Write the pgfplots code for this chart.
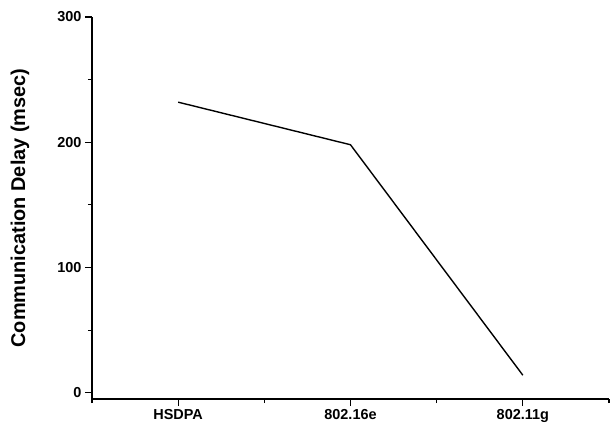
\documentclass[border=0pt]{standalone}
\usepackage{fontspec}
\setmainfont{Liberation Sans}
\usepackage{pgfplots}
\pgfplotsset{compat=1.18}
\begin{document}
\begin{tikzpicture}
\begin{axis}[
  scale only axis,
  width=517bp, height=382bp,
  xmin=0.5, xmax=3.5,
  ymin=-5, ymax=300,
  axis x line*=bottom,
  axis y line*=left,
  axis line style={line width=1.1pt},
  tick align=outside,
  tick style={line width=1.1pt, black},
  major tick length=7bp,
  minor tick length=4bp,
  xtick={1,2,3},
  xticklabels={HSDPA,802.16e,802.11g},
  minor xtick={0.5,1.5,2.5,3.5},
  ytick={0,100,200,300},
  minor ytick={50,150,250},
  /pgf/number format/assume math mode=true,
  ticklabel style={font=\fontsize{14.5}{17}\selectfont\bfseries},
  ylabel={Communication Delay (msec)},
  every axis y label/.style={at={(axis description cs:-0.1393,0.5)}, rotate=90, anchor=center,
    font=\fontsize{20}{24}\selectfont\bfseries},
  clip=false,
]
\addplot[black, line width=1.4pt, mark=none] coordinates {
  (1,232) (2,198) (3,14)
};
\end{axis}
\pgfresetboundingbox
\path ([shift={(-92bp,-30bp)}]current axis.south west) rectangle ([shift={(5bp,17bp)}]current axis.north east);
\end{tikzpicture}
\end{document}
